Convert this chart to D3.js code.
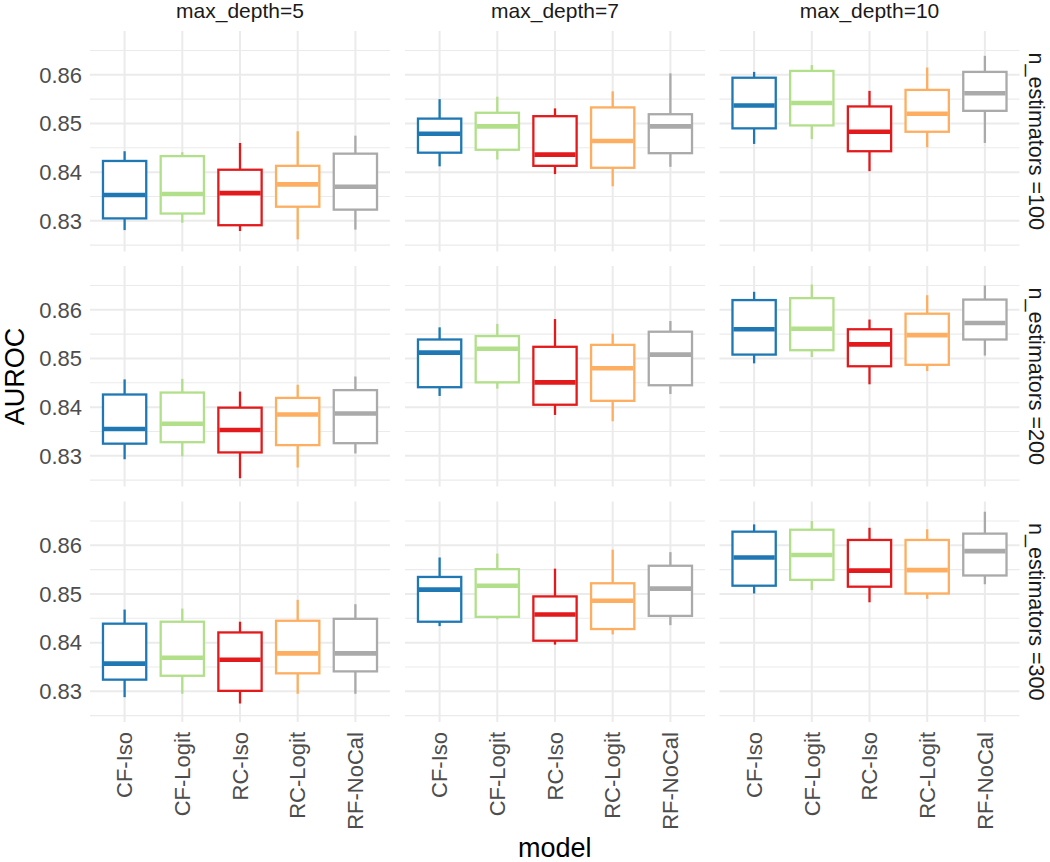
<!DOCTYPE html>
<html>
<head>
<meta charset="utf-8">
<script src="https://cdn.jsdelivr.net/npm/d3@7"></script>
<style>
  html, body { margin: 0; padding: 0; background: #ffffff; }
  svg { display: block; font-family: "Liberation Sans", Arial, Helvetica, sans-serif; }
</style>
</head>
<body>
<svg id="chart" width="1050" height="862"></svg>
<script>
// ---- data ----
const models = ["CF-Iso", "CF-Logit", "RC-Iso", "RC-Logit", "RF-NoCal"];
const modelColors = ["#1f78b4", "#b2df8a", "#e31a1c", "#fdae61", "#aaaaaa"];
const depthLabels = ["max_depth=5", "max_depth=7", "max_depth=10"];
const estimatorLabels = ["n_estimators =100", "n_estimators =200", "n_estimators =300"];
const yTicks = [0.83, 0.84, 0.85, 0.86];
const yMinorTicks = [0.825, 0.835, 0.845, 0.855, 0.865];

// each row: [whisker low, Q1, median, Q3, whisker high] per model
const d5_n100 = [
  [0.8281, 0.8305, 0.8353, 0.8423, 0.8443],
  [0.8296, 0.8315, 0.8355, 0.8433, 0.8441],
  [0.8279, 0.8291, 0.8357, 0.8405, 0.8460],
  [0.8262, 0.8329, 0.8375, 0.8413, 0.8484],
  [0.8282, 0.8323, 0.8370, 0.8438, 0.8475]
];
const d7_n100 = [
  [0.8412, 0.8440, 0.8479, 0.8510, 0.8550],
  [0.8426, 0.8446, 0.8494, 0.8522, 0.8555],
  [0.8396, 0.8413, 0.8436, 0.8515, 0.8531],
  [0.8371, 0.8409, 0.8464, 0.8533, 0.8566],
  [0.8411, 0.8439, 0.8494, 0.8519, 0.8603]
];
const d10_n100 = [
  [0.8458, 0.8490, 0.8537, 0.8594, 0.8606],
  [0.8468, 0.8496, 0.8542, 0.8608, 0.8620],
  [0.8402, 0.8443, 0.8483, 0.8535, 0.8567],
  [0.8451, 0.8483, 0.8520, 0.8569, 0.8615],
  [0.8460, 0.8526, 0.8562, 0.8606, 0.8639]
];
const d5_n200 = [
  [0.8293, 0.8325, 0.8355, 0.8426, 0.8457],
  [0.8299, 0.8328, 0.8366, 0.8430, 0.8458],
  [0.8254, 0.8307, 0.8353, 0.8399, 0.8432],
  [0.8276, 0.8322, 0.8385, 0.8419, 0.8446],
  [0.8305, 0.8326, 0.8387, 0.8435, 0.8463]
];
const d7_n200 = [
  [0.8423, 0.8441, 0.8512, 0.8539, 0.8564],
  [0.8438, 0.8451, 0.8520, 0.8546, 0.8571],
  [0.8384, 0.8405, 0.8451, 0.8524, 0.8581],
  [0.8371, 0.8413, 0.8480, 0.8528, 0.8551],
  [0.8427, 0.8445, 0.8508, 0.8555, 0.8577]
];
const d10_n200 = [
  [0.8490, 0.8508, 0.8560, 0.8620, 0.8637],
  [0.8503, 0.8517, 0.8561, 0.8624, 0.8652],
  [0.8447, 0.8484, 0.8529, 0.8560, 0.8580],
  [0.8474, 0.8487, 0.8548, 0.8592, 0.8630],
  [0.8506, 0.8539, 0.8573, 0.8621, 0.8650]
];
const d5_n300 = [
  [0.8288, 0.8324, 0.8357, 0.8439, 0.8468],
  [0.8295, 0.8332, 0.8369, 0.8443, 0.8470],
  [0.8275, 0.8301, 0.8365, 0.8421, 0.8443],
  [0.8295, 0.8337, 0.8378, 0.8445, 0.8488],
  [0.8295, 0.8341, 0.8378, 0.8449, 0.8479]
];
const d7_n300 = [
  [0.8434, 0.8443, 0.8509, 0.8535, 0.8575],
  [0.8448, 0.8453, 0.8517, 0.8551, 0.8583],
  [0.8396, 0.8404, 0.8458, 0.8495, 0.8552],
  [0.8417, 0.8428, 0.8486, 0.8522, 0.8591],
  [0.8436, 0.8455, 0.8511, 0.8558, 0.8586]
];
const d10_n300 = [
  [0.8501, 0.8517, 0.8575, 0.8628, 0.8643],
  [0.8508, 0.8529, 0.8580, 0.8632, 0.8650],
  [0.8483, 0.8515, 0.8548, 0.8611, 0.8636],
  [0.8490, 0.8501, 0.8549, 0.8611, 0.8633],
  [0.8520, 0.8538, 0.8588, 0.8624, 0.8669]
];
const panels = [
  [d5_n100, d7_n100, d10_n100],
  [d5_n200, d7_n200, d10_n200],
  [d5_n300, d7_n300, d10_n300]
];
const yDomain = [0.8237, 0.8690];

// ---- layout ----
const svg = d3.select("#chart");
const panelLefts = [90, 405, 719.5];
const panelW = 300;
const rowTops = [31, 266, 501.5];
const panelH = 220.5;
const gridCol = "#ebebeb";
const textCol = "#4d4d4d";

// ggplot discrete expansion: 0.6 units each side of 5 categories
const unit = panelW / (models.length - 1 + 1.2);
const xPos = d3.scalePoint().domain(models).range([0.6 * unit, panelW - 0.6 * unit]);
const boxW = 0.75 * unit;
const y = d3.scaleLinear().domain(yDomain).range([panelH, 0]);
const color = d3.scaleOrdinal().domain(models).range(modelColors);

panels.forEach((rowData, r) => {
  rowData.forEach((pData, c) => {
    const g = svg.append("g").attr("transform", `translate(${panelLefts[c]},${rowTops[r]})`);
    // minor grid
    g.selectAll(".minor").data(yMinorTicks).join("line")
      .attr("x1", 0).attr("x2", panelW)
      .attr("y1", d => y(d)).attr("y2", d => y(d))
      .attr("stroke", gridCol).attr("stroke-width", 1.1);
    // major grid
    g.selectAll(".major").data(yTicks).join("line")
      .attr("x1", 0).attr("x2", panelW)
      .attr("y1", d => y(d)).attr("y2", d => y(d))
      .attr("stroke", gridCol).attr("stroke-width", 2);
    g.selectAll(".vgrid").data(models).join("line")
      .attr("x1", d => xPos(d)).attr("x2", d => xPos(d))
      .attr("y1", 0).attr("y2", panelH)
      .attr("stroke", gridCol).attr("stroke-width", 2);

    const boxes = g.selectAll(".box").data(pData.map((s, i) => ({ m: models[i], s })))
      .join("g");
    // whiskers
    boxes.append("line")
      .attr("x1", d => xPos(d.m)).attr("x2", d => xPos(d.m))
      .attr("y1", d => y(d.s[4])).attr("y2", d => y(d.s[3]))
      .attr("stroke", d => color(d.m)).attr("stroke-width", 2.3);
    boxes.append("line")
      .attr("x1", d => xPos(d.m)).attr("x2", d => xPos(d.m))
      .attr("y1", d => y(d.s[1])).attr("y2", d => y(d.s[0]))
      .attr("stroke", d => color(d.m)).attr("stroke-width", 2.3);
    boxes.append("rect")
      .attr("x", d => xPos(d.m) - boxW / 2).attr("width", boxW)
      .attr("y", d => y(d.s[3])).attr("height", d => y(d.s[1]) - y(d.s[3]))
      .attr("fill", "#ffffff").attr("stroke", d => color(d.m)).attr("stroke-width", 2.3);
    boxes.append("line")
      .attr("x1", d => xPos(d.m) - boxW / 2 + 1).attr("x2", d => xPos(d.m) + boxW / 2 - 1)
      .attr("y1", d => y(d.s[2])).attr("y2", d => y(d.s[2]))
      .attr("stroke", d => color(d.m)).attr("stroke-width", 4.6);

    // y tick labels (left column only)
    if (c === 0) {
      g.selectAll(".ylab").data(yTicks).join("text")
        .attr("x", -8).attr("y", d => y(d)).attr("dy", "0.35em")
        .attr("text-anchor", "end").attr("fill", textCol)
        .style("font-size", "22px")
        .text(d => d3.format(".2f")(d));
    }
    // x tick labels (bottom row only)
    if (r === 2) {
      g.selectAll(".xlab").data(models).join("text")
        .attr("transform", d => `translate(${xPos(d)},${panelH + 10}) rotate(-90)`)
        .attr("dy", "0.35em")
        .attr("text-anchor", "end").attr("fill", textCol)
        .style("font-size", "22px")
        .text(d => d);
    }
    // column strips
    if (r === 0) {
      svg.append("text")
        .attr("x", panelLefts[c] + panelW / 2).attr("y", 18)
        .attr("text-anchor", "middle").attr("fill", "#1a1a1a")
        .style("font-size", "21px")
        .text(depthLabels[c]);
    }
    // row strips
    if (c === 2) {
      svg.append("text")
        .attr("transform", `translate(${1029},${rowTops[r] + panelH / 2}) rotate(90)`)
        .attr("text-anchor", "middle").attr("fill", "#1a1a1a")
        .style("font-size", "21.5px")
        .text(estimatorLabels[r]);
    }
  });
});

// axis titles
svg.append("text")
  .attr("transform", `translate(24,${(rowTops[0] + rowTops[2] + panelH) / 2}) rotate(-90)`)
  .attr("text-anchor", "middle").attr("fill", "#000000")
  .style("font-size", "27px")
  .text("AUROC");
svg.append("text")
  .attr("x", (panelLefts[0] + panelLefts[2] + panelW) / 2).attr("y", 857)
  .attr("text-anchor", "middle").attr("fill", "#000000")
  .style("font-size", "27px")
  .text("model");
</script>
</body>
</html>
